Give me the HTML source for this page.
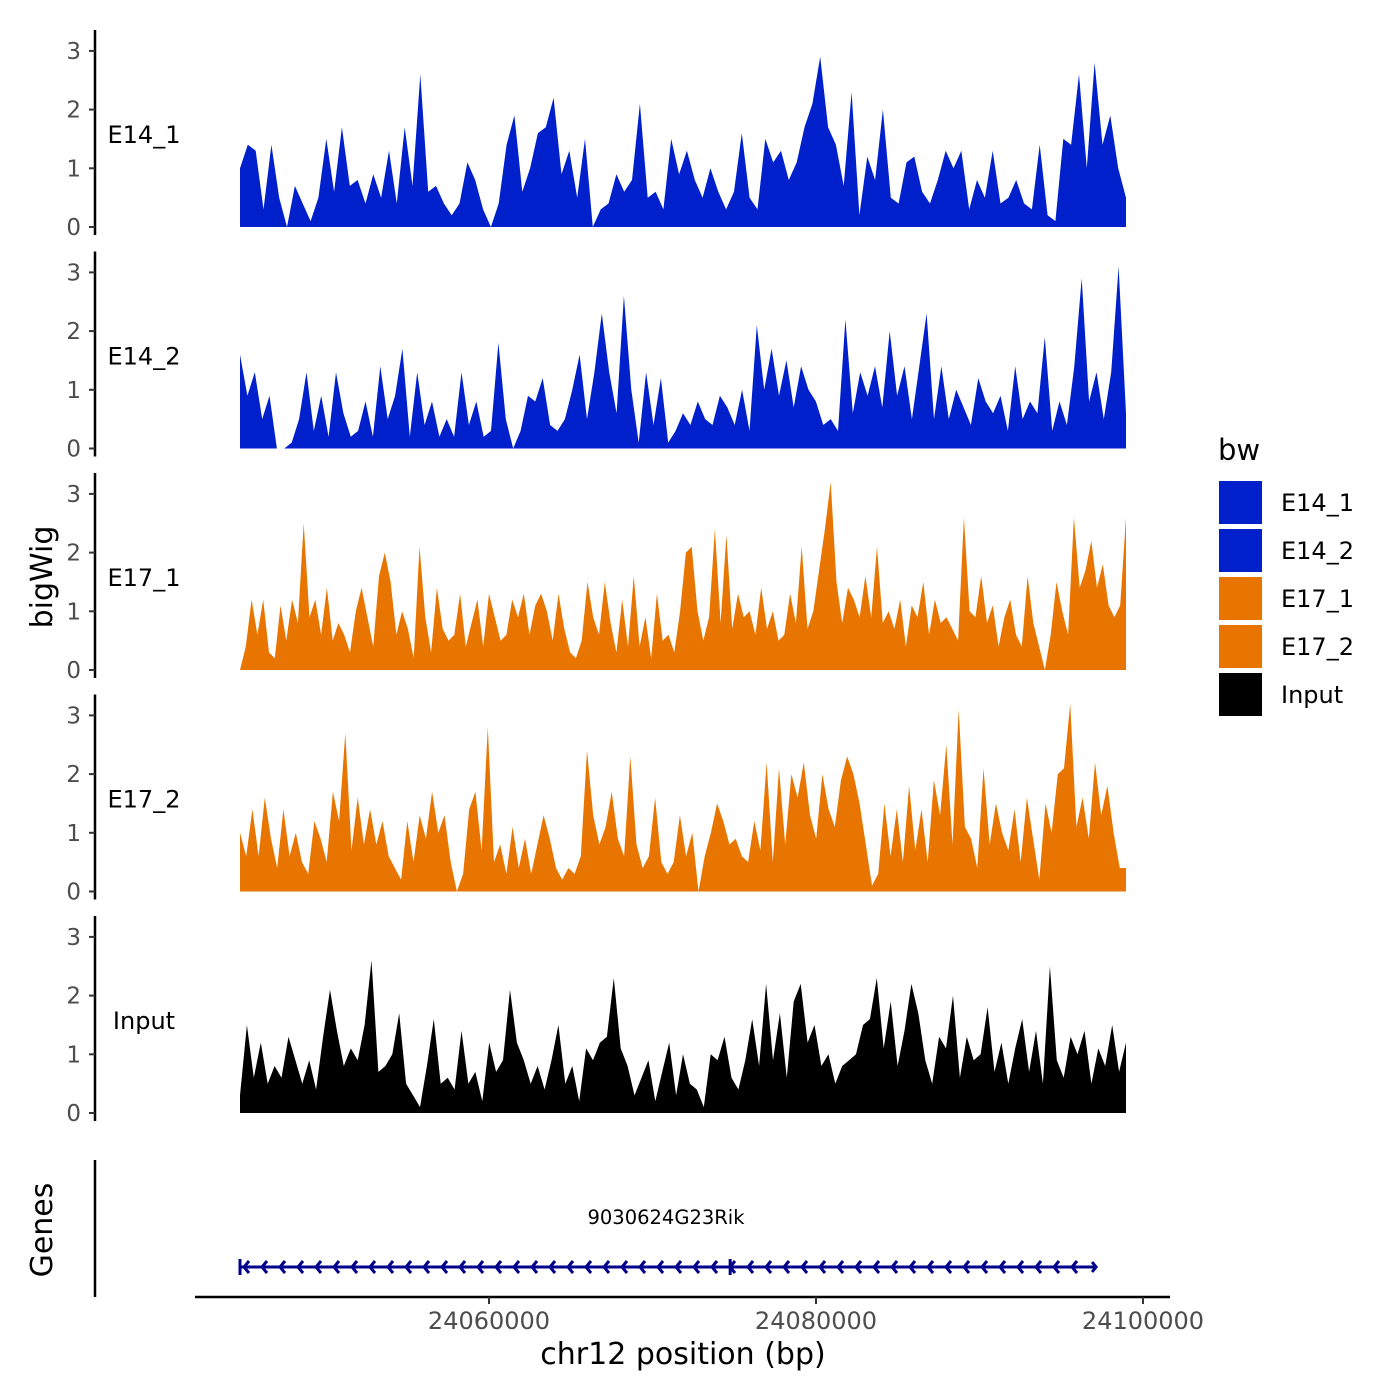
<!DOCTYPE html>
<html><head><meta charset="utf-8"><style>
html,body{margin:0;padding:0;background:#fff}
svg{display:block;font-family:"DejaVu Sans","Liberation Sans",sans-serif}
</style></head><body>
<svg id="chart" width="1400" height="1400" viewBox="0 0 1400 1400">
<text x="52" y="577" transform="rotate(-90 52 577)" text-anchor="middle" font-size="30">bigWig</text>
<text x="52" y="1230" transform="rotate(-90 52 1230)" text-anchor="middle" font-size="30">Genes</text>
<g>
<text x="1218" y="460" font-size="29">bw</text>
<rect x="1219" y="481" width="43" height="43" fill="#0020cc"/>
<text x="1281" y="511" font-size="24">E14_1</text>
<rect x="1219" y="529" width="43" height="43" fill="#0020cc"/>
<text x="1281" y="559" font-size="24">E14_2</text>
<rect x="1219" y="577" width="43" height="43" fill="#e87500"/>
<text x="1281" y="607" font-size="24">E17_1</text>
<rect x="1219" y="625" width="43" height="43" fill="#e87500"/>
<text x="1281" y="655" font-size="24">E17_2</text>
<rect x="1219" y="673" width="43" height="43" fill="#000"/>
<text x="1281" y="703" font-size="24">Input</text>
</g>
<g>
<line x1="95" y1="1160" x2="95" y2="1297" stroke="#000" stroke-width="2.5"/>
<text x="666" y="1224" text-anchor="middle" font-size="19.5">9030624G23Rik</text>
<g id="gene" stroke="#00008b" stroke-width="3" fill="none"></g>
</g>
<g>
<line x1="195" y1="1297" x2="1170" y2="1297" stroke="#000" stroke-width="2.5"/>
<g id="xticks"></g>
<text x="683" y="1364" text-anchor="middle" font-size="30">chr12 position (bp)</text>
</g>
<g id="tracks"></g>
</svg>
<script>
const trackNames = ["E14_1","E14_2","E17_1","E17_2","Input"];
const trackColors = ["#0020cc","#0020cc","#e87500","#e87500","#000000"];
const yTicks = [0,1,2,3];
const xTicks = [24060000,24080000,24100000];
const xTickLabels = ["24060000","24080000","24100000"];
const e14_1 = [1.0,1.4,1.3,0.3,1.4,0.5,0,0.7,0.4,0.1,0.5,1.5,0.6,1.7,0.7,0.8,0.4,0.9,0.5,1.3,0.4,1.7,0.7,2.6,0.6,0.7,0.4,0.2,0.4,1.1,0.8,0.3,0,0.4,1.4,1.9,0.6,1.0,1.6,1.7,2.2,0.9,1.3,0.5,1.5,0,0.3,0.4,0.9,0.6,0.8,2.1,0.5,0.6,0.3,1.5,0.9,1.3,0.8,0.5,1.0,0.6,0.3,0.6,1.6,0.5,0.3,1.5,1.1,1.3,0.8,1.1,1.7,2.1,2.9,1.7,1.4,0.7,2.3,0.2,1.2,0.8,2.0,0.5,0.4,1.1,1.2,0.6,0.4,0.8,1.3,1.0,1.3,0.3,0.8,0.5,1.3,0.4,0.5,0.8,0.4,0.3,1.4,0.2,0.1,1.5,1.4,2.6,1.0,2.8,1.4,1.9,1.0,0.5];
const e14_2 = [1.6,0.9,1.3,0.5,0.9,0,0,0.1,0.5,1.3,0.3,0.9,0.2,1.3,0.6,0.2,0.3,0.8,0.2,1.4,0.5,0.9,1.7,0.2,1.3,0.4,0.8,0.2,0.5,0.2,1.3,0.4,0.8,0.2,0.3,1.8,0.5,0,0.3,0.9,0.8,1.2,0.4,0.3,0.5,1.0,1.6,0.5,1.3,2.3,1.3,0.6,2.6,1.0,0.1,1.3,0.4,1.2,0.1,0.3,0.6,0.4,0.8,0.5,0.4,0.9,0.7,0.4,1.0,0.3,2.1,1.0,1.7,0.9,1.5,0.7,1.4,1.0,0.8,0.4,0.5,0.3,2.2,0.6,1.3,0.9,1.4,0.7,2.0,0.9,1.4,0.5,1.4,2.3,0.5,1.4,0.5,1.0,0.7,0.4,1.2,0.8,0.6,0.9,0.3,1.4,0.5,0.8,0.6,1.9,0.3,0.8,0.4,1.4,2.9,0.8,1.3,0.5,1.3,3.1,0.6];
const e17_1 = [0,0.4,1.2,0.6,1.2,0.3,0.2,1.1,0.5,1.2,0.8,2.5,0.9,1.2,0.6,1.4,0.5,0.8,0.6,0.3,1.0,1.4,0.9,0.4,1.6,2.0,1.5,0.6,1.0,0.7,0.2,2.1,0.9,0.3,1.4,0.7,0.5,0.6,1.3,0.4,0.8,1.2,0.4,1.3,0.9,0.5,0.6,1.2,0.9,1.3,0.6,1.1,1.3,1.0,0.5,1.3,0.7,0.3,0.2,0.5,1.5,0.9,0.6,1.5,0.8,0.3,1.2,0.4,1.6,0.4,0.9,0.2,1.3,0.5,0.6,0.3,1.0,2.0,2.1,1.0,0.5,0.9,2.4,0.8,2.3,0.7,1.3,0.9,1.0,0.6,1.4,0.7,1.0,0.5,0.6,1.3,0.8,2.1,0.7,1.0,1.7,2.4,3.2,1.5,0.8,1.4,1.2,0.9,1.6,0.9,2.1,0.8,1.0,0.7,1.2,0.4,1.1,0.9,1.5,0.6,1.2,0.8,0.9,0.7,0.5,2.6,1.0,0.9,1.6,0.8,1.1,0.4,0.9,1.2,0.6,0.4,1.6,0.8,0.4,0,0.6,1.5,1.0,0.6,2.6,1.4,1.7,2.2,1.4,1.8,1.1,0.9,1.1,2.6];
const e17_2 = [1.0,0.6,1.4,0.6,1.6,0.9,0.4,1.4,0.6,1.0,0.5,0.3,1.2,0.9,0.5,1.7,1.2,2.7,0.7,1.6,0.8,1.4,0.8,1.2,0.6,0.4,0.2,1.2,0.5,1.3,0.9,1.7,1.0,1.3,0.5,0,0.3,1.4,1.7,0.7,2.8,0.5,0.8,0.3,1.1,0.4,0.9,0.3,0.8,1.3,0.9,0.4,0.2,0.4,0.3,0.6,2.4,1.3,0.8,1.1,1.7,0.9,0.6,2.3,0.8,0.4,0.6,1.6,0.5,0.3,0.5,1.3,0.6,1.0,0,0.6,1.0,1.5,1.2,0.8,0.9,0.6,0.5,1.2,0.7,2.2,0.5,2.1,0.8,2.0,1.6,2.2,1.3,0.9,2.0,1.4,1.1,1.9,2.3,2.0,1.5,0.8,0.1,0.3,1.5,0.6,1.4,0.5,1.8,0.7,1.4,0.5,1.9,1.3,2.5,0.8,3.1,1.1,0.9,0.4,2.1,0.8,1.5,1.0,0.7,1.4,0.5,1.6,0.9,0.2,1.5,1.0,2.0,2.1,3.2,1.1,1.6,0.9,2.2,1.3,1.8,1.0,0.4,0.4];
const inputTrack = [0.3,1.5,0.6,1.2,0.5,0.8,0.6,1.3,0.9,0.5,0.9,0.4,1.3,2.1,1.4,0.8,1.1,0.9,1.5,2.6,0.7,0.8,1.0,1.7,0.5,0.3,0.1,0.8,1.6,0.5,0.6,0.4,1.4,0.5,0.7,0.2,1.2,0.7,0.9,2.1,1.2,0.9,0.5,0.8,0.4,0.9,1.5,0.5,0.8,0.2,1.1,0.9,1.2,1.3,2.3,1.1,0.8,0.3,0.6,0.9,0.2,0.7,1.2,0.3,1.0,0.5,0.4,0.1,1.0,0.9,1.3,0.6,0.4,0.9,1.6,0.8,2.2,0.9,1.7,0.6,1.9,2.2,1.2,1.5,0.8,1.0,0.5,0.8,0.9,1.0,1.5,1.6,2.3,1.1,1.9,0.8,1.4,2.2,1.7,0.9,0.5,1.3,1.1,2.0,0.6,1.3,0.9,1.0,1.8,0.7,1.2,0.5,1.1,1.6,0.7,1.4,0.5,2.5,0.9,0.6,1.3,1.0,1.4,0.5,1.1,0.8,1.5,0.7,1.2];
const trackData = [e14_1,e14_2,e17_1,e17_2,inputTrack];
const regionStart = 24044771, regionEnd = 24098960;
const geneStart = 24044771, geneEnd = 24097130, geneBreak = 24074750;

const NS = "http://www.w3.org/2000/svg";
function xScale(bp){ return 489 + (bp - 24060000) * 327 / 20000; }
function mk(tag, attrs, parent){ const e = document.createElementNS(NS, tag); for (const k in attrs) e.setAttribute(k, attrs[k]); parent.appendChild(e); return e; }
const tracks = document.getElementById("tracks");
trackData.forEach((vals, t) => {
  const base = 227 + t * 221.5;
  const yScale = v => base - v * 58.7;
  const g = mk("g", {}, tracks);
  
  
  const ax = mk("line", {x1:95, y1:base-197, x2:95, y2:base+8, stroke:"#000", "stroke-width":2.5}, g);
  
  
  yTicks.forEach(v => {
    mk("line", {x1:89, y1:yScale(v), x2:95, y2:yScale(v), stroke:"#333", "stroke-width":2}, g);
    const tl = mk("text", {x:81, y:yScale(v)+8, "text-anchor":"end", "font-size":23, fill:"#4d4d4d"}, g);
    tl.textContent = v;
    
    
  });
  const lab = mk("text", {x:144, y:base-84, "text-anchor":"middle", "font-size":24}, g);
  lab.textContent = trackNames[t];
  
  
  const n = vals.length;
  let d = "M" + xScale(regionStart) + "," + base;
  vals.forEach((v, i) => {
    const bp = regionStart + (regionEnd - regionStart) * i / (n - 1);
    d += " L" + xScale(bp).toFixed(1) + "," + yScale(v).toFixed(1);
  });
  d += " L" + xScale(regionEnd) + "," + base + " Z";
  const area = mk("path", {d: d, fill: trackColors[t]}, g);
  
  
});
const xt = document.getElementById("xticks");
xTicks.forEach((v, i) => {
  mk("line", {x1:xScale(v), y1:1297, x2:xScale(v), y2:1304, stroke:"#333", "stroke-width":2}, xt);
  const tl = mk("text", {x:xScale(v), y:1329, "text-anchor":"middle", "font-size":24, fill:"#4d4d4d"}, xt);
  tl.textContent = xTickLabels[i];
  
  
});
const gene = document.getElementById("gene");
const gy = 1267, gx0 = xScale(geneStart), gx1 = xScale(geneEnd), gb = xScale(geneBreak);
mk("line", {x1:gx0, y1:gy, x2:gx1, y2:gy}, gene);
mk("line", {x1:gx0, y1:gy-8, x2:gx0, y2:gy+8}, gene);
mk("line", {x1:gb, y1:gy-8, x2:gb, y2:gy+8}, gene);
mk("path", {d:"M"+(gx1-4)+","+(gy-5)+" L"+gx1+","+gy+" L"+(gx1-4)+","+(gy+5)}, gene);
for (let x = gx0 + 4; x < gx1 - 8; x += 18) {
  mk("path", {d:"M"+(x+5)+","+(gy-6)+" L"+x+","+gy+" L"+(x+5)+","+(gy+6)}, gene);
}
</script>
</body></html>
